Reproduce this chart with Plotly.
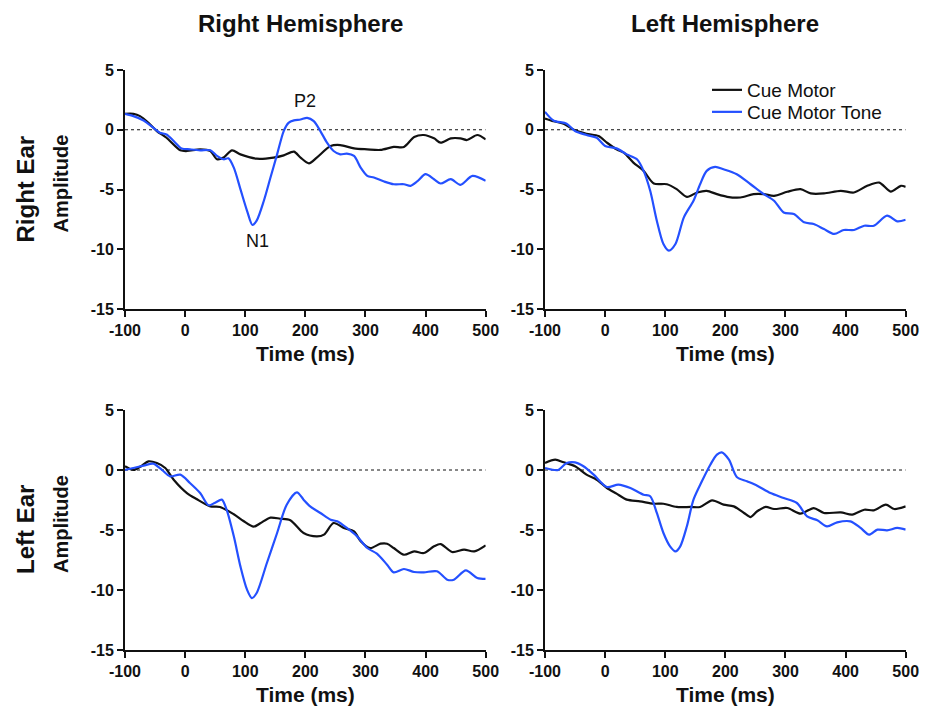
import plotly.graph_objects as go

# ---------------- data ----------------
# Top-left: Right Ear / Right Hemisphere
tl_cm_t = [-100,-86,-75,-61,-47,-31,-8,3,25,42,53,64,78,92,119,147,164,181,192,206,219,242,258,281,303,325,347,364,381,397,414,425,442,458,469,486,500]
tl_cm_v = [1.33,1.33,1.14,0.58,-0.11,-0.67,-1.72,-1.78,-1.64,-1.78,-2.47,-2.33,-1.72,-2.06,-2.42,-2.33,-2.14,-1.83,-2.33,-2.81,-2.33,-1.36,-1.28,-1.56,-1.64,-1.69,-1.44,-1.44,-0.61,-0.44,-0.72,-1.08,-0.72,-0.72,-0.86,-0.44,-0.81]
tl_cmt_t = [-100,-86,-69,-53,-42,-31,-19,-6,8,25,42,53,64,72,81,92,103,112,119,131,142,153,164,172,181,192,203,214,225,236,247,258,269,281,292,303,314,331,347,364,375,386,400,414,425,442,458,478,500]
tl_cmt_v = [1.33,1.14,0.78,0.17,-0.25,-0.39,-0.94,-1.56,-1.64,-1.72,-1.72,-2.19,-2.47,-2.39,-3.17,-4.97,-6.78,-7.97,-7.61,-5.94,-4.0,-2.06,-0.11,0.58,0.78,0.86,1.0,0.72,-0.11,-1.08,-1.78,-2.06,-2.0,-2.19,-3.17,-3.86,-4.0,-4.33,-4.56,-4.56,-4.69,-4.33,-3.72,-4.14,-4.5,-4.14,-4.61,-3.86,-4.28]

# Top-right: Right Ear / Left Hemisphere
tr_cm_t = [-100,-86,-69,-53,-31,-11,3,19,31,47,64,81,103,119,136,153,169,186,203,225,247,264,281,303,325,342,364,392,414,436,456,475,492,500]
tr_cm_v = [0.94,0.72,0.5,0.03,-0.33,-0.53,-1.08,-1.64,-1.92,-2.75,-3.44,-4.5,-4.56,-4.97,-5.61,-5.25,-5.11,-5.39,-5.61,-5.67,-5.39,-5.39,-5.53,-5.19,-4.97,-5.33,-5.33,-5.11,-5.25,-4.69,-4.42,-5.17,-4.69,-4.78]
tr_cmt_t = [-100,-86,-64,-50,-31,-14,0,19,36,53,64,75,86,97,106,117,131,147,158,169,183,197,219,242,264,281,297,314,331,347,364,381,397,414,431,447,469,486,500]
tr_cmt_v = [1.5,0.78,0.5,-0.11,-0.44,-0.67,-1.36,-1.56,-2.06,-2.47,-3.44,-5.11,-7.61,-9.56,-10.11,-9.56,-7.33,-5.94,-4.56,-3.44,-3.11,-3.31,-3.72,-4.56,-5.39,-5.94,-6.92,-7.06,-7.75,-7.89,-8.31,-8.72,-8.39,-8.39,-8.03,-8.03,-7.19,-7.67,-7.53]

# Bottom-left: Left Ear / Right Hemisphere
bl_cm_t = [-100,-86,-72,-61,-47,-33,-19,3,19,42,58,81,97,114,125,142,158,175,197,219,231,247,264,281,292,308,325,336,347,364,381,397,414,425,444,464,481,500]
bl_cm_v = [0.31,0.0,0.36,0.72,0.58,0.17,-0.81,-1.92,-2.42,-3.03,-3.08,-3.69,-4.25,-4.72,-4.44,-3.97,-4.06,-4.19,-5.25,-5.53,-5.39,-4.42,-4.83,-5.11,-5.94,-6.5,-6.14,-6.14,-6.5,-7.06,-6.78,-6.92,-6.36,-6.17,-6.83,-6.64,-6.78,-6.28]
bl_cmt_t = [-100,-86,-69,-53,-39,-25,-8,8,25,39,50,61,69,81,92,103,111,119,136,153,169,186,197,208,225,242,253,269,286,303,319,336,347,364,381,397,419,436,447,467,486,500]
bl_cmt_v = [0.0,0.17,0.36,0.53,0.03,-0.53,-0.39,-1.08,-1.92,-2.94,-2.72,-2.47,-3.31,-5.53,-8.03,-9.97,-10.67,-10.25,-7.75,-5.25,-2.89,-1.86,-2.47,-3.03,-3.58,-4.14,-4.28,-4.83,-5.53,-6.5,-6.97,-7.89,-8.53,-8.25,-8.5,-8.53,-8.44,-9.14,-9.14,-8.36,-9.0,-9.08]

# Bottom-right: Left Ear / Left Hemisphere
br_cm_t = [-100,-83,-69,-50,-31,-14,3,19,36,58,81,97,119,142,158,178,197,214,231,242,253,267,281,303,325,347,364,392,411,431,447,467,481,500]
br_cm_v = [0.58,0.86,0.64,0.31,-0.39,-0.81,-1.5,-1.97,-2.47,-2.61,-2.81,-2.81,-3.08,-3.08,-3.08,-2.53,-2.89,-3.03,-3.58,-3.92,-3.44,-3.08,-3.25,-3.17,-3.64,-3.17,-3.58,-3.53,-3.72,-3.31,-3.36,-2.89,-3.25,-3.03]
br_cmt_t = [-100,-89,-78,-64,-50,-36,-19,3,22,42,64,75,86,97,108,117,125,136,147,161,175,186,194,206,219,236,253,275,297,319,336,353,369,386,408,425,439,453,469,486,500]
br_cmt_v = [0.17,0.03,0.0,0.58,0.64,0.31,-0.39,-1.42,-1.22,-1.5,-2.06,-2.19,-3.58,-5.25,-6.36,-6.78,-6.36,-4.69,-2.47,-0.94,0.44,1.28,1.47,0.86,-0.58,-0.94,-1.31,-1.92,-2.33,-2.75,-3.86,-4.19,-4.69,-4.36,-4.28,-4.83,-5.39,-4.97,-5.03,-4.83,-4.97]

series_names = ["Cue Motor", "Cue Motor Tone"]
col_titles = ["Right Hemisphere", "Left Hemisphere"]
row_titles = ["Right Ear", "Left Ear"]
x_ticks = [-100, 0, 100, 200, 300, 400, 500]
x_tick_text = ["-100", "0", "100", "200", "300", "400", "500"]
y_ticks = [-15, -10, -5, 0, 5]
y_tick_text = ["-15", "-10", "-5", "0", "5"]

BLACK = "#111111"
BLUE = "#2450FF"
FONT = "Liberation Sans, Arial, sans-serif"

W, H = 933, 712
OFF = 8  # page body margin in the screenshot


def px(v):
    return (v - OFF) / W


def py(v):
    return 1 - (v - OFF) / H


# panel pixel boxes in screenshot coordinates: (left, right, top, bottom)
boxes = {
    (0, 0): (125, 485.7, 70, 309),
    (0, 1): (545, 905.7, 70, 309),
    (1, 0): (125, 485.7, 410, 650),
    (1, 1): (545, 905.7, 410, 650),
}
panels = {
    (0, 0): (tl_cm_t, tl_cm_v, tl_cmt_t, tl_cmt_v),
    (0, 1): (tr_cm_t, tr_cm_v, tr_cmt_t, tr_cmt_v),
    (1, 0): (bl_cm_t, bl_cm_v, bl_cmt_t, bl_cmt_v),
    (1, 1): (br_cm_t, br_cm_v, br_cmt_t, br_cmt_v),
}

legend_common = dict(xanchor="left", yanchor="middle",
                     font=dict(size=19, family=FONT, color=BLACK),
                     bgcolor="rgba(0,0,0,0)", itemwidth=30, borderwidth=0)

fig = go.Figure()
layout = dict(
    width=W, height=H, autosize=False,
    margin=dict(l=0, r=0, t=0, b=0, autoexpand=False),
    paper_bgcolor="white", plot_bgcolor="white",
    font=dict(family=FONT, color=BLACK),
    showlegend=True,
    legend=dict(legend_common, x=px(707), y=py(90)),
    legend2=dict(legend_common, x=px(707), y=py(112)),
)
annotations = []
shapes = []

idx = 0
for (r, c), (l, rr, t, b) in boxes.items():
    idx += 1
    xa = "x" if idx == 1 else f"x{idx}"
    ya = "y" if idx == 1 else f"y{idx}"
    cm_t, cm_v, cmt_t, cmt_v = panels[(r, c)]
    first = idx == 1
    fig.add_trace(go.Scatter(x=cm_t, y=cm_v, mode="lines", name=series_names[0],
                             line=dict(color=BLACK, width=2.2, shape="spline", smoothing=0.8),
                             xaxis=xa, yaxis=ya, showlegend=first, legend="legend"))
    fig.add_trace(go.Scatter(x=cmt_t, y=cmt_v, mode="lines", name=series_names[1],
                             line=dict(color=BLUE, width=2.2, shape="spline", smoothing=0.8),
                             xaxis=xa, yaxis=ya, showlegend=first, legend="legend2"))
    axis_common = dict(showgrid=False, zeroline=False, showline=True, linecolor=BLACK,
                       linewidth=2, ticks="outside", tickcolor=BLACK, tickwidth=2, ticklen=6,
                       tickfont=dict(size=16, family=FONT, color=BLACK, weight="bold"),
                       fixedrange=True, automargin=False)
    layout["xaxis" if idx == 1 else f"xaxis{idx}"] = dict(
        axis_common, domain=[px(l), px(rr)], range=[-100, 500],
        tickmode="array", tickvals=x_ticks, ticktext=x_tick_text,
        anchor=ya,
        title=dict(text="Time (ms)", font=dict(size=21, family=FONT, color=BLACK, weight="bold"),
                   standoff=8))
    layout["yaxis" if idx == 1 else f"yaxis{idx}"] = dict(
        axis_common, domain=[py(b), py(t)], range=[-15, 5],
        tickmode="array", tickvals=y_ticks, ticktext=y_tick_text,
        anchor=xa)
    shapes.append(dict(type="line", xref=xa, yref=ya, x0=-100, x1=500, y0=0, y1=0,
                       line=dict(color=BLACK, width=1, dash="dot"), layer="below"))

# column titles
col_centers = [300, 725]
for c, txt in enumerate(col_titles):
    annotations.append(dict(text=txt, x=px(col_centers[c]), y=py(23),
                            xref="paper", yref="paper", showarrow=False,
                            xanchor="center", yanchor="middle",
                            font=dict(size=24, family=FONT, color=BLACK, weight="bold")))
# row titles
for r, txt in enumerate(row_titles):
    l, rr, t, b = boxes[(r, 0)]
    cy = (t + b) / 2
    annotations.append(dict(text=txt, x=px(25), y=py(cy), xref="paper", yref="paper",
                            showarrow=False, textangle=-90, xanchor="center", yanchor="middle",
                            font=dict(size=24, family=FONT, color=BLACK, weight="bold")))
    annotations.append(dict(text="Amplitude", x=px(61), y=py(cy - 6), xref="paper", yref="paper",
                            showarrow=False, textangle=-90, xanchor="center", yanchor="middle",
                            font=dict(size=20, family=FONT, color=BLACK, weight="bold")))

# peak labels
annotations.append(dict(text="N1", x=121, y=-9.3, xref="x", yref="y", showarrow=False,
                        font=dict(size=18, family=FONT, color=BLACK)))
annotations.append(dict(text="P2", x=199, y=2.4, xref="x", yref="y", showarrow=False,
                        font=dict(size=18, family=FONT, color=BLACK)))

layout["annotations"] = annotations
layout["shapes"] = shapes
fig.update_layout(**layout)
fig.write_html("out.html")
